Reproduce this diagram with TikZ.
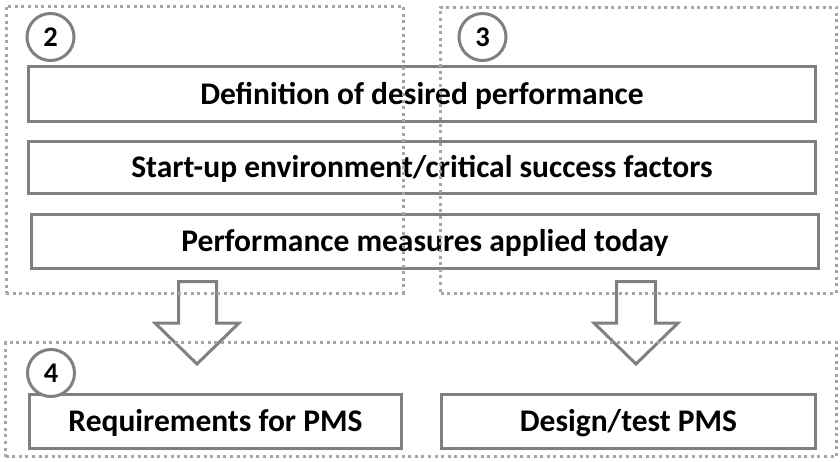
\documentclass[tikz,border=0pt]{standalone}
\usepackage{fontspec}
\setmainfont{Carlito}
\definecolor{edge}{HTML}{808080}
\definecolor{grp}{HTML}{A6A6A6}
\begin{document}
\begin{tikzpicture}[x=1pt,y=-1pt,
  stepbox/.style={draw=edge, line width=3pt, inner sep=0pt,
    text height=20pt, text depth=0pt,
    font=\bfseries\fontsize{31.5}{34}\selectfont},
  numcircle/.style={circle, draw=edge, line width=3pt, fill=white,
    minimum size=47pt, inner sep=0pt, text height=18pt, text depth=0pt,
    font=\bfseries\fontsize{28.5}{30}\selectfont},
  group/.style={draw=grp, line width=3pt, dash pattern=on 3pt off 3.6pt, inner sep=0pt},
  blockarrow/.style={draw=edge, line width=3pt, line join=miter}]
\useasboundingbox (0,0) rectangle (840,461);

% step boxes
\node[stepbox, minimum width=787pt, minimum height=55pt] (def) at (422,94)
  {Definition of desired performance};
\node[stepbox, minimum width=787pt, minimum height=52pt] (env) at (422,167)
  {Start-up environment/critical success factors};
\node[stepbox, minimum width=787pt, minimum height=54pt] (meas) at (425,241.5)
  {Performance measures applied today};
\node[stepbox, minimum width=372pt, minimum height=54pt] (req) at (215.5,421.5)
  {Requirements for PMS};
\node[stepbox, minimum width=374pt, minimum height=54pt] (design) at (628.5,421.5)
  {Design/test PMS};

% numbered markers
\node[numcircle] (n2) at (50.5,37) {2};
\node[numcircle] (n3) at (482.5,37) {3};
\node[numcircle] (n4) at (51,373) {4};

% hollow block arrows
\draw[blockarrow] (178.5,281.5) -- (216.5,281.5) -- (216.5,323) -- (239,323)
  -- (197,364) -- (155,323) -- (178.5,323) -- cycle;
\draw[blockarrow] (616.5,281.5) -- (655.5,281.5) -- (655.5,323) -- (678,323)
  -- (636,364) -- (594,323) -- (616.5,323) -- cycle;

% dotted group frames
\node[group, minimum width=397pt, minimum height=287pt] (g2) at (204.5,149.5) {};
\node[group, minimum width=396pt, minimum height=286pt] (g3) at (638.5,150) {};
\node[group, minimum width=831pt, minimum height=114pt] (g4) at (421,399.5) {};
\end{tikzpicture}
\end{document}
